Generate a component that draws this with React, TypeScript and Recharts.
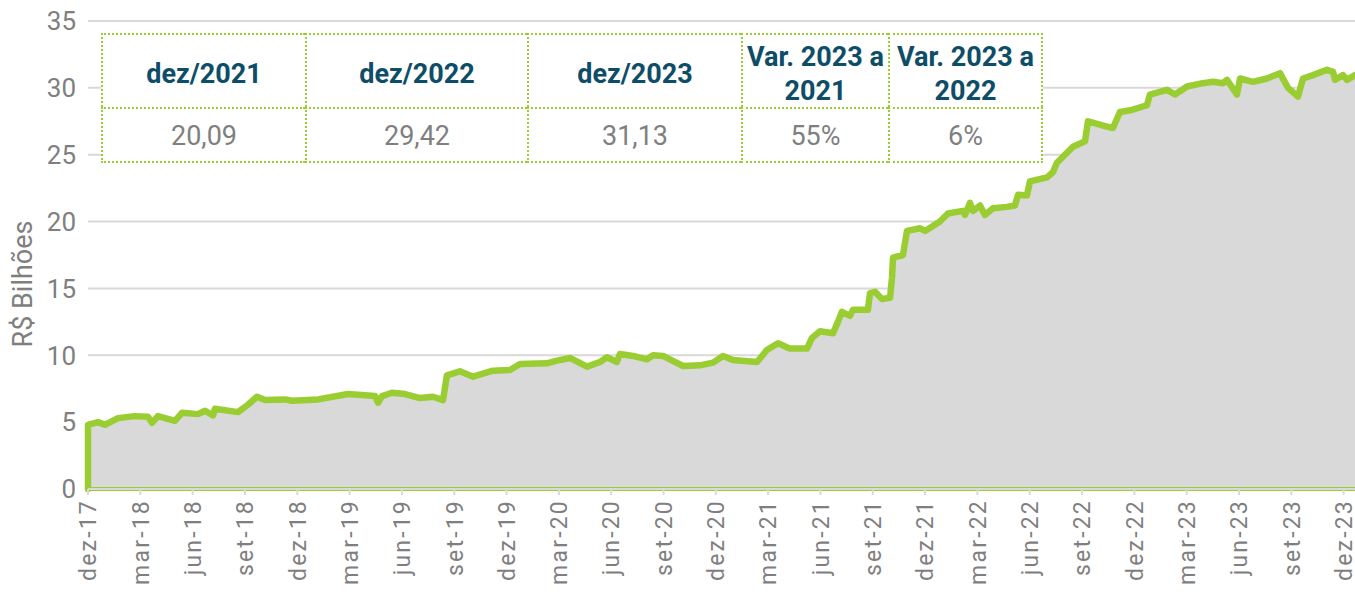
import React from 'react';
import { AreaChart, Area, XAxis, YAxis, CartesianGrid, ReferenceLine } from 'recharts';

// months since dez-17
const months = [
  0, 0, 0.57, 0.97, 1.72, 2.69, 3.44, 3.67, 4.01, 4.99, 5.39, 6.31, 6.71, 7.17, 7.28, 8.6, 9.17, 9.69,
  10.15, 11.3, 11.7, 13.19, 14.91, 16.46, 16.63, 16.86, 17.43, 18.18, 19.04, 19.78, 20.36, 20.58,
  21.33, 22.08, 23.22, 24.2, 24.77, 26.32, 26.89, 27.64, 28.61, 29.36, 29.76, 30.33, 30.5, 31.25,
  32.05, 32.4, 32.97, 34.12, 35.09, 35.84, 36.41, 36.98, 38.36, 38.93, 39.56, 40.25, 41.23, 41.51,
  41.97, 42.72, 43.0, 43.23, 43.69, 43.86, 44.72, 44.84, 45.13, 45.53, 45.99, 46.1, 46.16, 46.73,
  46.96, 47.71, 48.0, 48.85, 49.31, 50.17, 50.29, 50.57, 50.74, 51.15, 51.43, 51.89, 52.69, 53.15,
  53.33, 53.84, 54.01, 54.99, 55.33, 55.56, 56.02, 56.48, 57.17, 57.34, 58.43, 58.77, 59.17, 59.86,
  60.72, 60.89, 61.87, 62.33, 63.02, 63.93, 64.51, 65.08, 65.31, 65.88, 66.06, 66.8, 67.6, 68.35,
  68.81, 69.38, 69.67, 70.24, 71.04, 71.39, 71.5, 71.96, 72.19, 72.65,
];
// R$ billions
const values = [
  0, 4.8, 5.0, 4.8, 5.3, 5.45, 5.4, 4.95, 5.45, 5.1, 5.7, 5.6, 5.85, 5.5, 6.0, 5.75, 6.3, 6.9,
  6.65, 6.7, 6.6, 6.7, 7.1, 6.95, 6.45, 6.95, 7.2, 7.1, 6.8, 6.9, 6.65, 8.5,
  8.8, 8.4, 8.85, 8.9, 9.35, 9.4, 9.6, 9.8, 9.15, 9.5, 9.85, 9.5, 10.1, 9.95,
  9.7, 10.0, 9.95, 9.2, 9.25, 9.45, 9.95, 9.65, 9.5, 10.4, 10.9, 10.5, 10.5, 11.3,
  11.8, 11.65, 12.5, 13.25, 12.95, 13.4, 13.4, 14.65, 14.75, 14.2, 14.3, 15.8, 17.3, 17.5,
  19.3, 19.5, 19.3, 20.0, 20.6, 20.8, 20.5, 21.4, 20.8, 21.2, 20.5, 21.0, 21.1, 21.2,
  22.0, 21.95, 23.0, 23.3, 23.7, 24.4, 25.0, 25.6, 26.0, 27.5, 27.1, 27.0, 28.2, 28.35,
  28.7, 29.5, 29.85, 29.5, 30.1, 30.35, 30.45, 30.35, 30.6, 29.5, 30.7, 30.45, 30.7, 31.1,
  30.0, 29.35, 30.7, 30.95, 31.35, 31.2, 30.6, 30.95, 30.6, 30.95,
];

const tickMonths = [0, 3, 6, 9, 12, 15, 18, 21, 24, 27, 30, 33, 36, 39, 42, 45, 48, 51, 54, 57, 60, 63, 66, 69, 72];
const tickLabels = [
  'dez-17', 'mar-18', 'jun-18', 'set-18', 'dez-18', 'mar-19', 'jun-19', 'set-19', 'dez-19',
  'mar-20', 'jun-20', 'set-20', 'dez-20', 'mar-21', 'jun-21', 'set-21', 'dez-21',
  'mar-22', 'jun-22', 'set-22', 'dez-22', 'mar-23', 'jun-23', 'set-23', 'dez-23',
];
const yTicks = [0, 5, 10, 15, 20, 25, 30, 35];

const tableHeaders = ['dez/2021', 'dez/2022', 'dez/2023', 'Var. 2023 a\n2021', 'Var. 2023 a\n2022'];
const tableValues = ['20,09', '29,42', '31,13', '55%', '6%'];

const data = months.map((m, i) => ({ m, v: values[i] }));

const GREEN = '#9ACD32';
const GREY_TEXT = '#7F7F7F';
const FONT = 'Roboto, sans-serif';

// table layout (pixels)
const colEdges = [101, 305, 527, 741, 888, 1043];
const rowEdges = [33, 107, 163];

const XTick = (props: any) => {
  const { x, y, payload } = props;
  const i = tickMonths.indexOf(payload.value);
  return (
    <text
      transform={`translate(${x},${y + 2}) rotate(-90)`}
      textAnchor="end"
      dy="0.36em"
      fill={GREY_TEXT}
      fontSize={23}
      fontFamily={FONT}
      letterSpacing={2.2}
    >
      {tickLabels[i]}
    </text>
  );
};

const YLabel = () => (
  <text
    transform="translate(22,284) rotate(-90)"
    textAnchor="middle"
    dy="0.36em"
    fill={GREY_TEXT}
    fontSize={27}
    fontFamily={FONT}
  >
    R$ Bilhões
  </text>
);

export default function App() {
  const dot = `2px dotted ${GREEN}`;
  const cells: React.ReactNode[] = [];
  for (let r = 0; r < 2; r++) {
    for (let c = 0; c < 5; c++) {
      const isHeader = r === 0;
      cells.push(
        <div
          key={`${r}-${c}`}
          style={{
            position: 'absolute',
            left: colEdges[c],
            top: rowEdges[r],
            width: colEdges[c + 1] - colEdges[c],
            height: rowEdges[r + 1] - rowEdges[r],
            boxSizing: 'border-box',
            borderLeft: dot,
            borderTop: dot,
            borderRight: c === 4 ? dot : 'none',
            borderBottom: r === 1 ? dot : 'none',
            display: 'flex',
            alignItems: 'center',
            justifyContent: 'center',
            textAlign: 'center',
            whiteSpace: 'pre-line',
            background: '#fff',
            color: isHeader ? '#0D4D68' : GREY_TEXT,
            fontWeight: isHeader ? 700 : 400,
            fontSize: 27,
            lineHeight: '34px',
            paddingTop: isHeader ? 6 : 2,
            fontFamily: FONT,
          }}
        >
          {isHeader ? tableHeaders[c] : tableValues[c]}
        </div>
      );
    }
  }
  return (
    <div style={{ position: 'absolute', left: 0, top: 0, width: 1355, height: 598, background: '#fff', fontFamily: FONT }}>
      <AreaChart width={1355} height={598} data={data} margin={{ top: 21, right: 0, left: 0, bottom: 0 }}>
        <CartesianGrid horizontal vertical={false} stroke="#D9D9D9" strokeWidth={2} />
        <XAxis
          type="number"
          dataKey="m"
          domain={[0, 72.65]}
          ticks={tickMonths}
          interval={0}
          height={109}
          tick={<XTick />}
          tickLine={{ stroke: '#D9D9D9', strokeWidth: 2 }}
          axisLine={{ stroke: '#D9D9D9', strokeWidth: 2 }}
          tickSize={6}
        />
        <YAxis
          type="number"
          domain={[0, 35]}
          ticks={yTicks}
          width={88}
          axisLine={false}
          tickLine={false}
          tickSize={0}
          tickMargin={12}
          tick={{ fill: GREY_TEXT, fontSize: 26, fontFamily: FONT }}
          label={<YLabel />}
        />
        <ReferenceLine y={0} stroke={GREEN} strokeWidth={4} />
        <Area
          type="linear"
          dataKey="v"
          stroke={GREEN}
          strokeWidth={6.5}
          strokeLinejoin="round"
          strokeLinecap="round"
          fill="#D9D9D9"
          fillOpacity={1}
          isAnimationActive={false}
          dot={false}
          activeDot={false}
        />
      </AreaChart>
      {cells}
    </div>
  );
}
